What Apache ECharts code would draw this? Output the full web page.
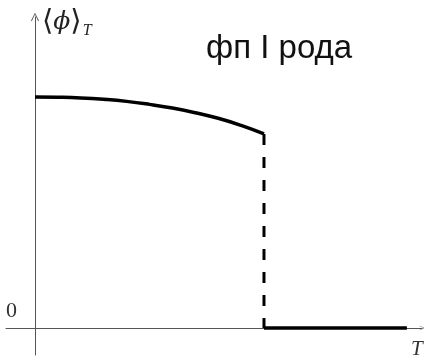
<!DOCTYPE html>
<html>
<head>
<meta charset="utf-8">
<script src="https://cdn.jsdelivr.net/npm/echarts@6/dist/echarts.min.js"></script>
<style>
	html, body { margin: 0; padding: 0; background: #fff; }
	#chart { width: 425px; height: 361px; }
</style>
</head>
<body>
<div id="chart"></div>
<script>
// order parameter below the transition (T in units of Tc, phi in units of phi(0))
var curveT = [0, 0.1, 0.2, 0.3, 0.4, 0.5, 0.6, 0.7, 0.8, 0.9, 1.0];
var curvePhi = [1.0, 0.999, 0.996, 0.99, 0.981, 0.968, 0.952, 0.932, 0.908, 0.877, 0.84];
// jump at Tc
var jumpT = [1.0, 1.0];
var jumpPhi = [0.84, 0];
// zero branch above Tc
var zeroT = [1.0, 1.624];
var zeroPhi = [0, 0];
var titleText = "фп I рода";
var zeroLabel = ["0"];

function pairs(xs, ys) {
	var out = [];
	for (var i = 0; i < xs.length; i++) out.push([xs[i], ys[i]]);
	return out;
}

var chevron = "path://M0,10 L5,0 L10,10 L9,10.6 L5,2.2 L1,10.6 Z";

var chart = echarts.init(document.getElementById("chart"));
chart.setOption({
	animation: false,
	backgroundColor: "#fff",
	title: {
		text: titleText,
		left: 201,
		top: 27,
		textStyle: {
			fontFamily: "Liberation Sans",
			fontSize: 33,
			fontWeight: "normal",
			color: "#111"
		}
	},
	grid: { left: 6, right: 3, top: 17, bottom: 6 },
	xAxis: {
		type: "value",
		min: -0.1266,
		max: 1.69,
		axisLine: {
			show: true,
			onZero: true,
			symbol: ["none", chevron],
			symbolSize: [6, 5],
			lineStyle: { color: "#555", width: 1 }
		},
		axisTick: { show: false },
		axisLabel: { show: false },
		splitLine: { show: false }
	},
	yAxis: {
		type: "value",
		min: -0.1169,
		max: 1.3463,
		axisLine: {
			show: true,
			onZero: true,
			symbol: ["none", chevron],
			symbolSize: [8, 9],
			lineStyle: { color: "#555", width: 1 }
		},
		axisTick: { show: false },
		axisLabel: { show: false },
		splitLine: { show: false }
	},
	graphic: [{
		type: "text",
		left: 42,
		top: 8,
		style: {
			text: "{b|⟨}{i|ϕ}{b|⟩}{s|T}",
			fill: "#222",
			rich: {
				b: { fontFamily: "DejaVu Serif", fontSize: 29, fill: "#222" },
				i: { fontFamily: "DejaVu Serif", fontStyle: "italic", fontSize: 25, fill: "#222" },
				s: { fontFamily: "Liberation Serif", fontStyle: "italic", fontSize: 16, fill: "#222", padding: [16, 0, 0, 1] }
			}
		}
	}, {
		type: "text",
		left: 6,
		top: 300,
		style: {
			text: zeroLabel[0],
			fontFamily: "Liberation Serif",
			fontSize: 22,
			fill: "#333"
		}
	}, {
		type: "text",
		left: 411,
		top: 339,
		style: {
			text: "T",
			fontFamily: "Liberation Serif",
			fontStyle: "italic",
			fontSize: 21,
			fill: "#333"
		}
	}],
	series: [{
		type: "line",
		data: pairs(curveT, curvePhi),
		smooth: true,
		showSymbol: false,
		lineStyle: { color: "#000", width: 3.5 }
	}, {
		type: "line",
		data: pairs(jumpT, jumpPhi),
		showSymbol: false,
		lineStyle: { color: "#000", width: 3, type: [11, 12] }
	}, {
		type: "line",
		data: pairs(zeroT, zeroPhi),
		showSymbol: false,
		lineStyle: { color: "#000", width: 3.5 }
	}]
});
</script>
</body>
</html>
